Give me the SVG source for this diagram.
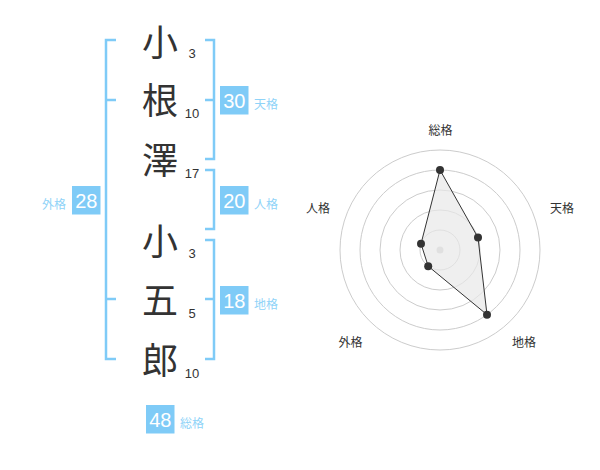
<svg xmlns="http://www.w3.org/2000/svg" width="600" height="470" viewBox="0 0 600 470">
<style>
.kanji{font-family:"Noto Sans CJK JP","Noto Sans CJK SC",sans-serif;font-size:36px;fill:#333;text-anchor:middle}
.num{font-family:"Liberation Sans","Noto Sans",sans-serif;font-size:13px;fill:#333;text-anchor:middle}
.br{fill:none;stroke:#7fcbf7;stroke-width:2.5}
.box{fill:#7fcbf7}
.bv{font-family:"Liberation Sans","Noto Sans",sans-serif;font-size:20px;fill:#fff;text-anchor:middle}
.bl{font-family:"Noto Sans CJK JP",sans-serif;font-size:12px;fill:#8fd3f8}
.ring{fill:none;stroke:#ccc;stroke-width:1}
.rl{font-family:"Noto Sans CJK JP",sans-serif;font-size:12px;fill:#333;text-anchor:middle}
.dot{fill:#333}
</style>
<g id="connectors">
<path class="br" d="M116,40 H106 V359 H116 M106,100 H116 M106,299 H116"/>
<path class="br" d="M205,40 H214 V159 H205 M205,100 H214"/>
<path class="br" d="M205,170 H214 V229 H205"/>
<path class="br" d="M205,240 H214 V359 H205 M205,299 H214"/>
</g>
<g id="name">
<g id="c1"><text class="kanji" x="160" y="56">小</text><text class="num" x="192" y="58">3</text></g>
<g id="c2"><text class="kanji" x="160" y="114">根</text><text class="num" x="192" y="118">10</text></g>
<g id="c3"><text class="kanji" x="160" y="174">澤</text><text class="num" x="192" y="178">17</text></g>
<g id="c4"><text class="kanji" x="160" y="255">小</text><text class="num" x="192" y="258">3</text></g>
<g id="c5"><text class="kanji" x="160" y="314">五</text><text class="num" x="192" y="318">5</text></g>
<g id="c6"><text class="kanji" x="160" y="374">郎</text><text class="num" x="192" y="378">10</text></g>
</g>
<g id="tenkaku"><rect class="box" x="220" y="86" width="28.5" height="28.5"/><text class="bv" x="234.3" y="108.3">30</text><text class="bl" x="254" y="108.5">天格</text></g>
<g id="jinkaku"><rect class="box" x="220" y="186" width="28.5" height="28.5"/><text class="bv" x="234.3" y="208.3">20</text><text class="bl" x="254" y="208.5">人格</text></g>
<g id="chikaku"><rect class="box" x="220" y="286" width="28.5" height="28.5"/><text class="bv" x="234.3" y="308.3">18</text><text class="bl" x="254" y="308.5">地格</text></g>
<g id="gaikaku"><rect class="box" x="72" y="186" width="28.5" height="28.5"/><text class="bv" x="86.3" y="208.3">28</text><text class="bl" x="66" y="208.5" text-anchor="end">外格</text></g>
<g id="soukaku"><rect class="box" x="146" y="405" width="28.5" height="28.5"/><text class="bv" x="160.3" y="427.3">48</text><text class="bl" x="180" y="427.5">総格</text></g>
<g id="radar">
<circle class="ring" cx="440" cy="250" r="20"/>
<circle class="ring" cx="440" cy="250" r="40"/>
<circle class="ring" cx="440" cy="250" r="60"/>
<circle class="ring" cx="440" cy="250" r="80"/>
<circle class="ring" cx="440" cy="250" r="100"/>
<circle cx="440" cy="250" r="3.5" fill="#ccc"/>
<polygon points="440,170 478,237.6 487,314.7 428.2,266.2 421,243.8" fill="#e8e8e8" fill-opacity="0.7" stroke="#333" stroke-width="1"/>
<circle class="dot" cx="440" cy="170" r="4"/>
<circle class="dot" cx="478" cy="237.6" r="4"/>
<circle class="dot" cx="487" cy="314.7" r="4"/>
<circle class="dot" cx="428.2" cy="266.2" r="4"/>
<circle class="dot" cx="421" cy="243.8" r="4"/>
<text class="rl" x="440.5" y="135">総格</text>
<text class="rl" x="562" y="213">天格</text>
<text class="rl" x="318" y="213">人格</text>
<text class="rl" x="350.5" y="346.5">外格</text>
<text class="rl" x="524" y="346.5">地格</text>
</g>
</svg>
